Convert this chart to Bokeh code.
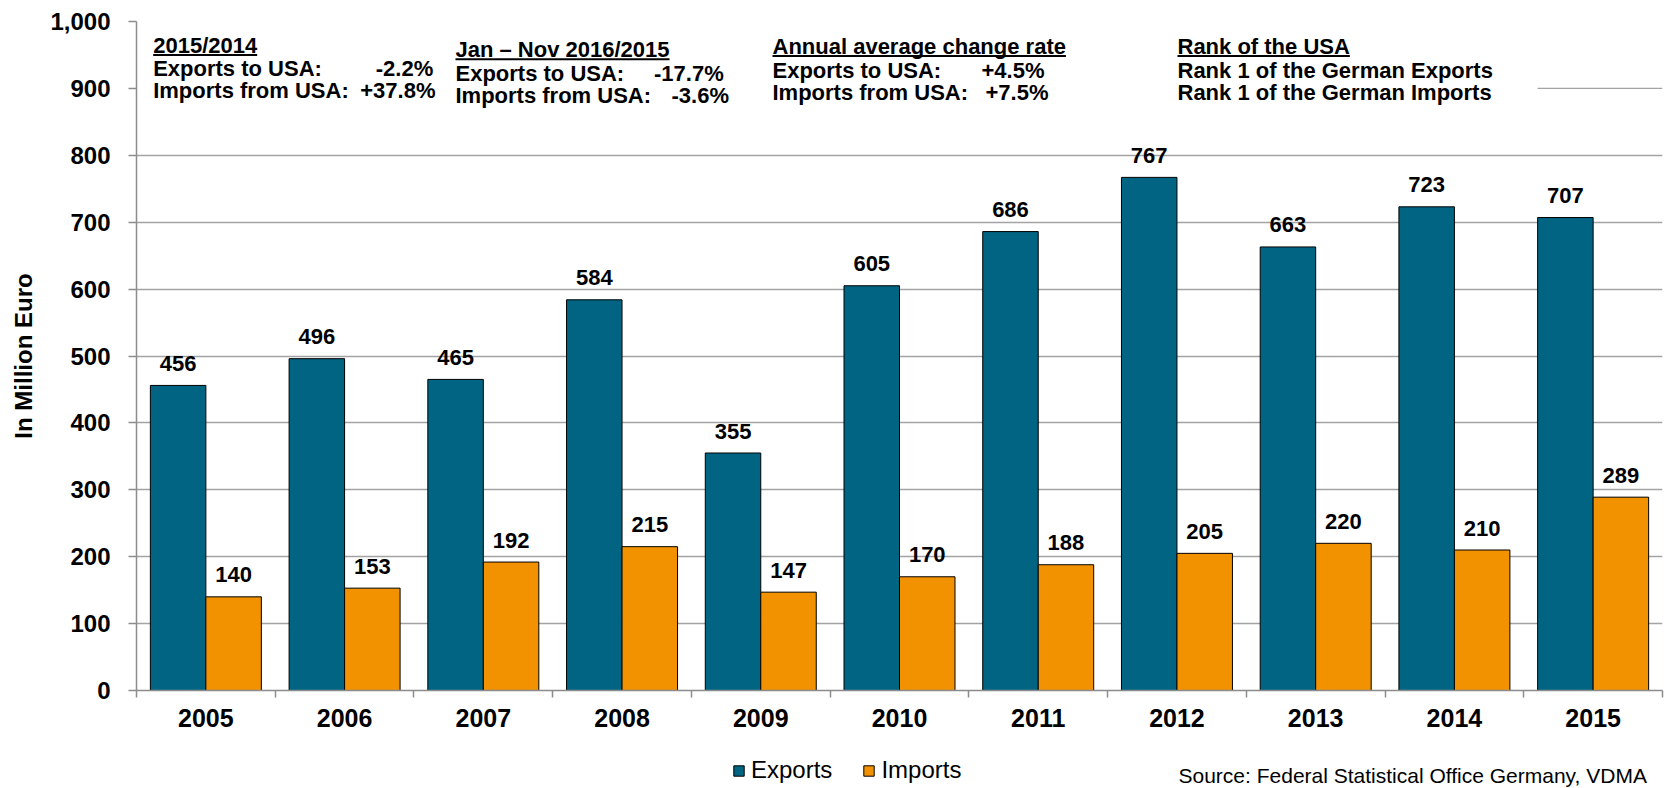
from bokeh.plotting import figure
from bokeh.layouts import column
from bokeh.models import (Range1d, FixedTicker, NumeralTickFormatter, Label, BoxAnnotation,
                          Legend, LegendItem, ColumnDataSource)
from bokeh.transform import dodge
from bokeh.core.properties import value
from bokeh.embed import file_html
from bokeh.resources import INLINE

# ---------------- data ----------------
years = ["2005", "2006", "2007", "2008", "2009", "2010", "2011", "2012", "2013", "2014", "2015"]
exports = [456, 496, 465, 584, 355, 605, 686, 767, 663, 723, 707]
imports = [140, 153, 192, 215, 147, 170, 188, 205, 220, 210, 289]
y_ticks = [0, 100, 200, 300, 400, 500, 600, 700, 800, 900, 1000]

block_headers = ["2015/2014", "Jan \u2013 Nov 2016/2015", "Annual average change rate", "Rank of the USA"]
block_line1 = ["Exports to USA:", "Exports to USA:", "Exports to USA:", "Rank 1 of the German Exports"]
block_line2 = ["Imports from USA:", "Imports from USA:", "Imports from USA:", "Rank 1 of the German Imports"]
block_val1 = ["-2.2%", "-17.7%", "+4.5%", ""]
block_val2 = ["+37.8%", "-3.6%", "+7.5%", ""]
source_text = "Source: Federal Statistical Office Germany, VDMA"

EXP_COLOR = "#006482"
IMP_COLOR = "#F39200"
GRID = "#a3a3a3"
AXIS = "#8c8c8c"
FONT = "Liberation Sans"
W = 1671
MAIN_H = 740
FOOT_H = 48

n = len(years)
centers = [i + 0.5 for i in range(n)]        # category slots on the x scale
bounds = [float(i) for i in range(n + 1)]     # slot boundaries (tick marks)

src = ColumnDataSource(dict(
    x=centers, year=years, exports=exports, imports=imports,
    exp_lbl=[str(v) for v in exports], imp_lbl=[str(v) for v in imports],
))

p = figure(x_range=Range1d(0, n), y_range=Range1d(0, 1000),
           width=W, height=MAIN_H, output_backend="svg", toolbar_location=None,
           min_border_left=136, min_border_right=9, min_border_top=21, min_border_bottom=50)
p.outline_line_color = None
p.background_fill_color = "white"
p.xgrid.visible = False
p.ygrid.ticker = FixedTicker(ticks=[t for t in y_ticks if t != 900])
p.ygrid.grid_line_color = GRID
p.ygrid.grid_line_width = 1.3

# y axis
ya = p.yaxis[0]
ya.ticker = FixedTicker(ticks=y_ticks)
ya.formatter = NumeralTickFormatter(format="0,0")
ya.axis_line_color = AXIS
ya.axis_line_width = 1.5
ya.major_tick_line_color = AXIS
ya.major_tick_line_width = 1.5
ya.major_tick_out = 8
ya.major_tick_in = 0
ya.minor_tick_line_color = None
ya.major_label_text_font = FONT
ya.major_label_text_font_size = "24px"
ya.major_label_text_font_style = "bold"
ya.major_label_text_color = "black"
ya.major_label_standoff = 18
ya.axis_label = "In Million Euro"
ya.axis_label_text_font = FONT
ya.axis_label_text_font_size = "24px"
ya.axis_label_text_font_style = "bold"
ya.axis_label_text_color = "black"
ya.axis_label_standoff = 10

# x axis: labels at slot centres, tick marks at slot boundaries
xa = p.xaxis[0]
xa.ticker = FixedTicker(ticks=centers, minor_ticks=bounds)
xa.major_label_overrides = {c: y for c, y in zip(centers, years)}
xa.major_tick_line_color = None
xa.major_tick_out = 7
xa.major_tick_in = 0
xa.minor_tick_line_color = AXIS
xa.minor_tick_line_width = 1.5
xa.minor_tick_out = 7
xa.minor_tick_in = 0
xa.axis_line_color = AXIS
xa.axis_line_width = 1.5
xa.major_label_text_font = FONT
xa.major_label_text_font_size = "25px"
xa.major_label_text_font_style = "bold"
xa.major_label_text_color = "black"
xa.major_label_standoff = 11

# partial 900 gridline at the right (rest hidden behind the text boxes)
p.segment(x0=[10.1], y0=[900], x1=[11], y1=[900], line_color=GRID, line_width=1.3)

# bars
bar_exp = dict(x=dodge("x", -0.2), top="exports", width=0.4, source=src,
               fill_color=EXP_COLOR, line_color="black", line_width=1)
bar_imp = dict(x=dodge("x", 0.2), top="imports", width=0.4, source=src,
               fill_color=IMP_COLOR, line_color="black", line_width=1)
r_exp = p.vbar(**bar_exp)
r_imp = p.vbar(**bar_imp)

lbl_kw = dict(text_align="center", text_baseline="middle", y_offset=-22,
              text_font=value(FONT), text_font_size="22px", text_font_style="bold",
              text_color="black")
p.text(x=dodge("x", -0.2), y="exports", text="exp_lbl", source=src, **lbl_kw)
p.text(x=dodge("x", 0.2), y="imports", text="imp_lbl", source=src, **lbl_kw)

# ---------------- text blocks (page coords -> frame screen coords) ----------------
FRAME_L, FRAME_B = 136, 690

def txt(plot, x, y, t, align="left", size="22px", style="bold", oy=FRAME_B):
    plot.add_layout(Label(x=x - FRAME_L, y=oy - y, x_units="screen", y_units="screen", text=t,
                          text_align=align, text_baseline="middle", text_font=FONT,
                          text_font_size=size, text_font_style=style, text_color="black"))

def underline(x0, x1, y):
    p.add_layout(BoxAnnotation(left=x0 - FRAME_L, right=x1 - FRAME_L,
                               top=FRAME_B - y, bottom=FRAME_B - (y + 2),
                               left_units="screen", right_units="screen",
                               top_units="screen", bottom_units="screen",
                               fill_color="black", fill_alpha=1, line_color=None))

FS = 22
# Arial-bold em widths of the header strings (for the underline lengths)
header_em = [4.726, 9.728, 13.338, 7.834]
block_x = [152.7, 455, 772, 1177]
block_y = [(45, 68.3, 90), (49.3, 72.6, 95), (46, 69.5, 91.5), (46, 69.5, 91.5)]
val1_x = [(432.7, "right"), (653.5, "left"), (981, "left"), None]
val2_x = [(435, "right"), (671, "left"), (985, "left"), None]

for i in range(4):
    bx = block_x[i]
    y0, y1, y2 = block_y[i]
    txt(p, bx, y0, block_headers[i])
    underline(bx, bx + header_em[i] * FS, y0 + 8.5)
    txt(p, bx, y1, block_line1[i])
    txt(p, bx, y2, block_line2[i])
    if val1_x[i]:
        txt(p, val1_x[i][0], y1, block_val1[i], align=val1_x[i][1])
        txt(p, val2_x[i][0], y2, block_val2[i], align=val2_x[i][1])

# ---------------- footer: legend + source ----------------
# (the column layout aligns this footer's frame with the chart frame: left edge at x=136)
f = figure(width=W, height=FOOT_H, x_range=Range1d(0, n), y_range=Range1d(0, 1000),
           output_backend="svg", toolbar_location=None, min_border=0,
           x_axis_location=None, y_axis_location=None)
f.outline_line_color = None
f.xgrid.visible = False
f.ygrid.visible = False
# the same bar series, hidden here: used only so that the legend can show their swatches
l_exp = f.vbar(visible=False, **bar_exp)
l_imp = f.vbar(visible=False, **bar_imp)

legend = Legend(items=[LegendItem(label="Exports", renderers=[l_exp]),
                       LegendItem(label="Imports", renderers=[l_imp])],
                orientation="horizontal", location=(732 - FRAME_L, 4),
                glyph_width=13, glyph_height=13, label_standoff=6, spacing=30,
                padding=0, margin=0, border_line_color=None, background_fill_alpha=0,
                inactive_fill_alpha=0, click_policy="none",
                label_text_font=FONT, label_text_font_size="24px", label_text_color="black")
f.add_layout(legend, "center")

txt(f, 1178, 775, source_text, align="left", size="21px", style="normal",
    oy=MAIN_H + FOOT_H)

layout = column(p, f, spacing=0)
open("out.html", "w").write(file_html(layout, INLINE))
